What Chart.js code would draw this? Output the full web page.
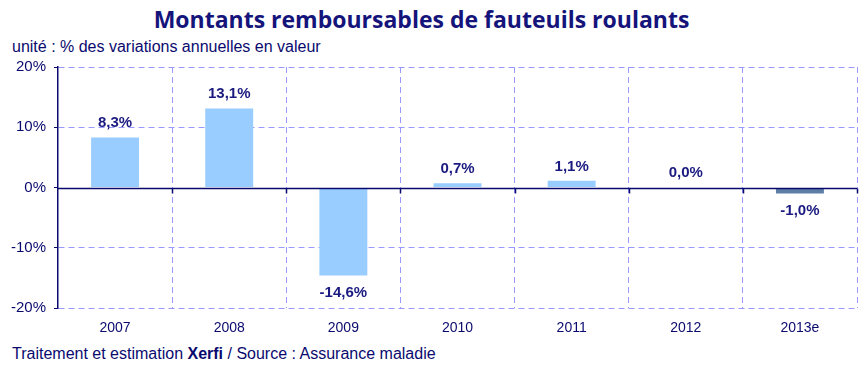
<!DOCTYPE html>
<html>
<head>
<meta charset="utf-8">
<script src="https://cdn.jsdelivr.net/npm/chart.js@4"></script>
<style>
  body { margin: 0; background: #fff; }
  #wrap { position: relative; width: 867px; height: 381px; overflow: hidden; }
  #titre { position: absolute; left: 0; width: 843px; top: 3px; text-align: center;
           font: bold 23px "Open Sans", sans-serif; color: #14147a; }
  #unite { position: absolute; left: 12px; top: 38px; font: 16px "Liberation Sans", Arial, sans-serif; color: #0a0a6e; }
  #source { position: absolute; left: 12px; top: 345px; font: 16px "Liberation Sans", Arial, sans-serif; color: #0a0a6e; }
  canvas { position: absolute; left: 0; top: 0; }
</style>
</head>
<body>
<div id="wrap">
  <div id="titre">Montants remboursables de fauteuils roulants</div>
  <div id="unite">unité : % des variations annuelles en valeur</div>
  <div id="source">Traitement et estimation <b>Xerfi</b> / Source : Assurance maladie</div>
  <canvas id="graf" width="867" height="381"></canvas>
</div>
<script>
const annees = ['2007', '2008', '2009', '2010', '2011', '2012', '2013e'];
const variations = [8.3, 13.1, -14.6, 0.7, 1.1, 0.0, -1.0];
const couleurs = ['#99ccff', '#99ccff', '#99ccff', '#99ccff', '#99ccff', '#99ccff', '#5d7fa6'];

const marine = '#0a0a6e';
const grille = '#9999ff';

function pourcent(v){
    return v.toFixed(1).replace('.', ',') + '%';
}

// etiquettes des valeurs au-dessus / en dessous des barres
const etiquettes = {
    id: 'etiquettes',
    afterDatasetsDraw(chart){
        const ctx = chart.ctx;
        const meta = chart.getDatasetMeta(0);
        ctx.save();
        ctx.font = 'bold 15px "Liberation Sans", Arial, sans-serif';
        ctx.fillStyle = '#1a1a80';
        ctx.textAlign = 'center';
        meta.data.forEach((bar, i) => {
            const v = variations[i];
            if (v < 0) {
                ctx.textBaseline = 'top';
                ctx.fillText(pourcent(v), bar.x, bar.y + 10);
            } else {
                ctx.textBaseline = 'bottom';
                ctx.fillText(pourcent(v), bar.x, bar.y - 7);
            }
        });
        ctx.restore();
    }
};

// ligne du zero, pleine
const ligneZero = {
    id: 'ligneZero',
    afterDatasetsDraw(chart){
        const { ctx, chartArea: { left, right } } = chart;
        const y = Math.round(chart.scales.y.getPixelForValue(0)) + 0.5;
        ctx.save();
        ctx.strokeStyle = marine;
        ctx.lineWidth = 1.5;
        ctx.beginPath();
        ctx.moveTo(left, y);
        ctx.lineTo(right, y);
        const w = (right - left) / annees.length;
        for (let i = 1; i <= annees.length; i++) {
            const x = Math.round(left + i * w) + 0.5;
            ctx.moveTo(x, y);
            ctx.lineTo(x, y + 5);
        }
        ctx.stroke();
        ctx.restore();
    }
};

new Chart(document.getElementById('graf'), {
    type: 'bar',
    data: {
        labels: annees,
        datasets: [{
            data: variations,
            backgroundColor: couleurs,
            barPercentage: 0.42,
            categoryPercentage: 1
        }]
    },
    options: {
        responsive: false,
        animation: false,
        layout: { padding: { top: 67, right: 10, left: 0, bottom: 0 } },
        plugins: { legend: { display: false }, tooltip: { enabled: false } },
        scales: {
            x: {
                offset: true,
                grid: {
                    offset: true,
                    color: c => c.index === 0 ? 'transparent' : grille,
                    lineWidth: 1,
                    drawTicks: false
                },
                border: { display: false, dash: [6, 4] },
                ticks: { color: marine, font: { size: 14, family: '"Liberation Sans", Arial, sans-serif' }, padding: 12 },
                afterFit(scale){ scale.height = 73; }
            },
            y: {
                min: -20, max: 20,
                ticks: {
                    stepSize: 10,
                    color: marine,
                    padding: 8,
                    font: { size: 15, family: '"Liberation Sans", Arial, sans-serif' },
                    callback: v => v + '%'
                },
                grid: {
                    color: c => c.tick && c.tick.value === 0 ? 'transparent' : grille,
                    tickColor: marine,
                    tickLength: 4,
                    tickBorderDash: []
                },
                border: { display: true, color: marine, width: 1.5, dash: [6, 4] },
                afterFit(scale){ scale.width = 58; }
            }
        }
    },
    plugins: [etiquettes, ligneZero]
});
</script>
</body>
</html>
